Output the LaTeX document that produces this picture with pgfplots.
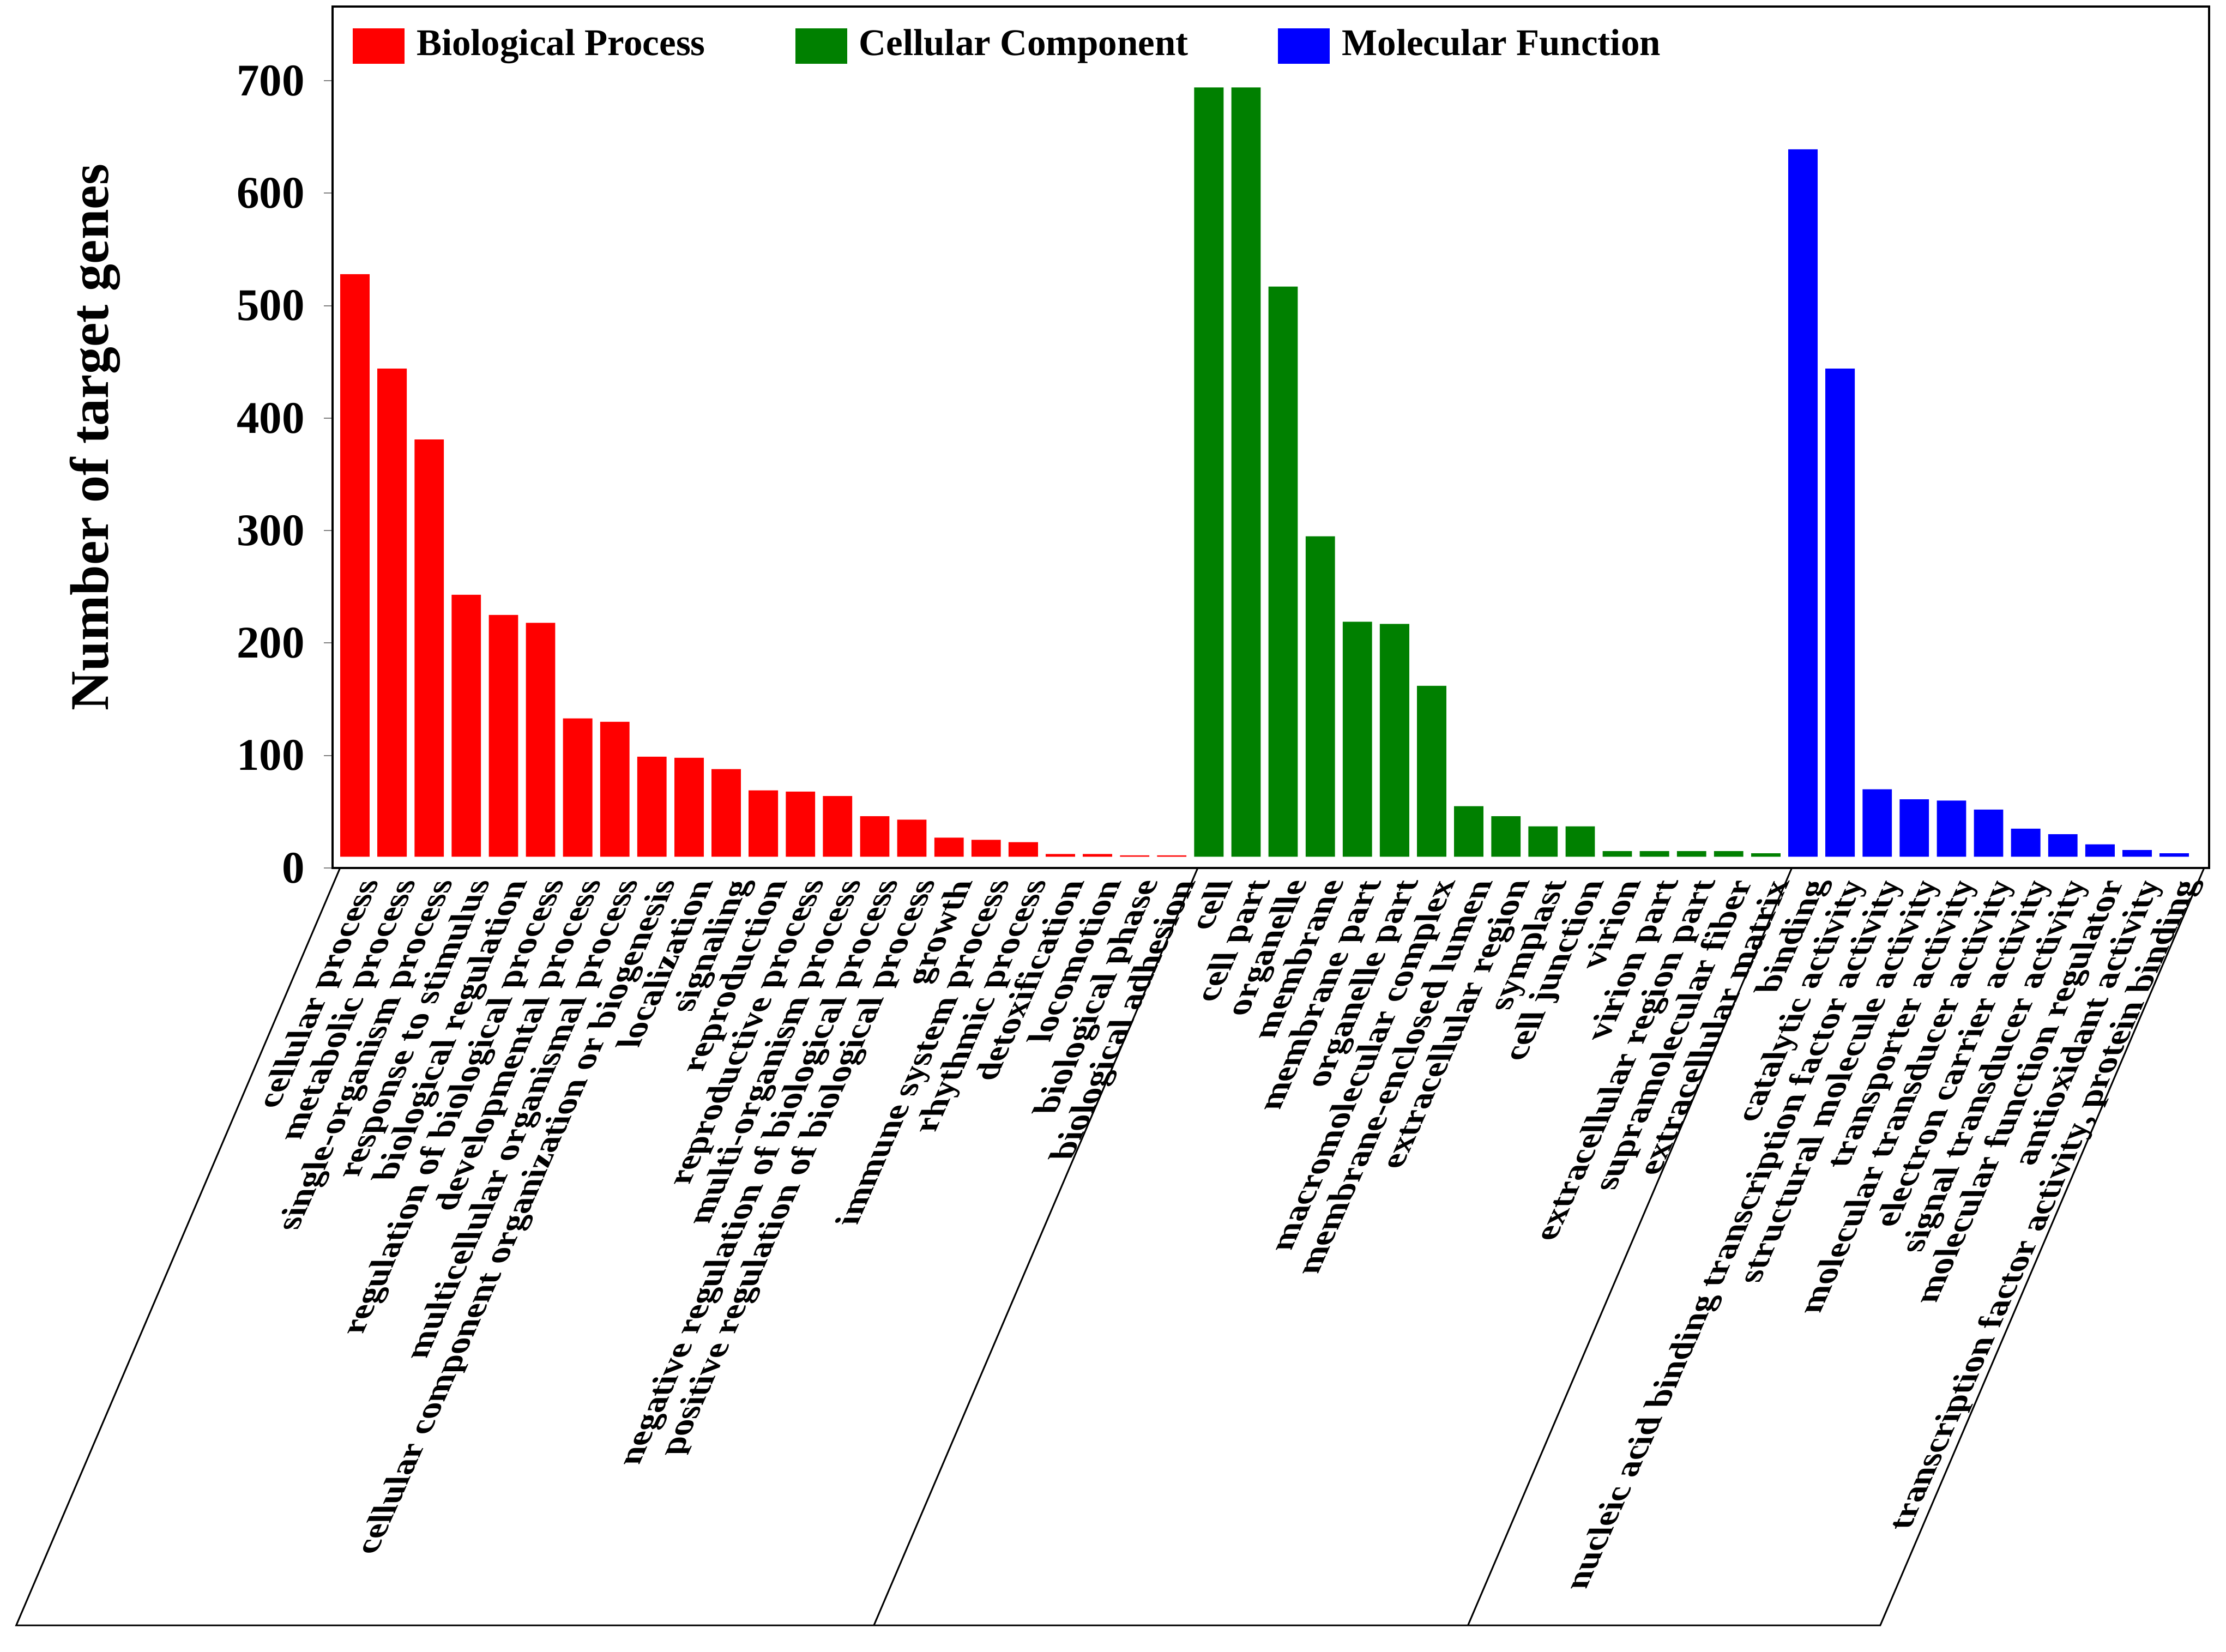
\documentclass[border=0pt]{standalone}
\usepackage{fontspec}
\setmainfont{Liberation Serif}
\usepackage{pgfplots}
\usepackage{pgfplotstable}
\pgfplotsset{compat=1.18}
\definecolor{bpred}{RGB}{255,0,0}
\definecolor{ccgreen}{RGB}{0,128,0}
\definecolor{mfblue}{RGB}{0,0,255}

% bar tops (bars are drawn from a base of 10)
\pgfplotstableread{
x  base bp  cc  mf
0  10 528 0 0
1  10 444 0 0
2  10 381 0 0
3  10 243 0 0
4  10 225 0 0
5  10 218 0 0
6  10 133 0 0
7  10 130 0 0
8  10 99 0 0
9  10 98 0 0
10 10 88 0 0
11 10 69 0 0
12 10 68 0 0
13 10 64 0 0
14 10 46 0 0
15 10 43 0 0
16 10 27 0 0
17 10 25 0 0
18 10 23 0 0
19 10 12.5 0 0
20 10 12.5 0 0
21 10 11.2 0 0
22 10 11.2 0 0
23 10 0 694 0
24 10 0 694 0
25 10 0 517 0
26 10 0 295 0
27 10 0 219 0
28 10 0 217 0
29 10 0 162 0
30 10 0 55 0
31 10 0 46 0
32 10 0 37 0
33 10 0 37 0
34 10 0 15 0
35 10 0 15 0
36 10 0 15 0
37 10 0 15 0
38 10 0 13 0
39 10 0 0 639
40 10 0 0 444
41 10 0 0 70
42 10 0 0 61
43 10 0 0 60
44 10 0 0 52
45 10 0 0 35
46 10 0 0 30
47 10 0 0 21
48 10 0 0 16
49 10 0 0 13
}\gotable

\begin{document}
\begin{tikzpicture}
\path[use as bounding box] (0,0) rectangle (408.3pt,302.9pt);
\begin{axis}[
  at={(61pt,143.7pt)}, anchor=south west,
  scale only axis, width=344.2pt, height=158pt,
  xmin=-0.602, xmax=49.94, ymin=0, ymax=766,
  ybar stacked, bar width=0.79,
  clip=false,
  axis line style={line width=0.4pt},
  xtick={0,...,49},
  xticklabels={cellular process, metabolic process, single-organism process, response to stimulus, biological regulation, regulation of biological process, developmental process, multicellular organismal process, cellular component organization or biogenesis, localization, signaling, reproduction, reproductive process, multi-organism process, negative regulation of biological process, positive regulation of biological process, growth, immune system process, rhythmic process, detoxification, locomotion, biological phase, biological adhesion,
  cell, cell part, organelle, membrane, membrane part, organelle part, macromolecular complex, membrane-enclosed lumen, extracellular region, symplast, cell junction, virion, virion part, extracellular region part, supramolecular fiber, extracellular matrix,
  binding, catalytic activity, nucleic acid binding transcription factor activity, structural molecule activity, transporter activity, molecular transducer activity, electron carrier activity, signal transducer activity, molecular function regulator, antioxidant activity, {transcription factor activity, protein binding}},
  x tick label style={xslant=0.445, rotate=90, anchor=east, inner sep=0pt,
    text height=0.7em, text depth=0.22em,
    font=\fontsize{6.3}{7}\selectfont\bfseries, xshift=-0.5pt, yshift=-2.4pt},
  major x tick style={draw=none},
  xtick pos=bottom, ytick pos=left,
  ytick={0,100,...,700},
  tick align=outside, major tick length=1.6pt,
  y tick label style={font=\fontsize{8.3}{9}\selectfont\bfseries},
  /pgf/number format/assume math mode=true,
  ylabel={Number of target genes},
  ylabel style={font=\fontsize{10}{12}\selectfont\bfseries, at={(axis description cs:-0.1267,0.5)}, anchor=center},
  legend columns=3,
  legend style={draw=none, fill=none, at={(axis description cs:0.0102,0.954)}, anchor=west,
    inner sep=0pt, font=\fontsize{6.9}{8}\selectfont\bfseries,
    nodes={inner sep=0pt},
    /tikz/every odd column/.append style={column sep=2.2pt},
    /tikz/every even column/.append style={column sep=16.5pt}},
]
\addplot[draw=none, fill=none, forget plot] table[x=x, y=base] {\gotable};
\addplot[draw=none, fill=bpred, legend image code/.code={\fill[bpred] (0pt,-3.25pt) rectangle (9.5pt,3.25pt);}]
  table[x=x, y expr={max(\thisrow{bp}-10,0)}] {\gotable};
\addlegendentry{Biological Process}
\addplot[draw=none, fill=ccgreen, legend image code/.code={\fill[ccgreen] (0pt,-3.25pt) rectangle (9.5pt,3.25pt);}]
  table[x=x, y expr={max(\thisrow{cc}-10,0)}] {\gotable};
\addlegendentry{Cellular Component}
\addplot[draw=none, fill=mfblue, legend image code/.code={\fill[mfblue] (0pt,-3.25pt) rectangle (9.5pt,3.25pt);}]
  table[x=x, y expr={max(\thisrow{mf}-10,0)}] {\gotable};
\addlegendentry{Molecular Function}
\draw[line width=0.3pt] (axis cs:-0.4,0) -- ++(-59.4pt,-138.9pt) -- ++(341.9pt,0pt) -- ++(59.4pt,138.9pt);
\draw[line width=0.3pt] (axis cs:22.7,0) -- ++(-59.4pt,-138.9pt);
\draw[line width=0.3pt] (axis cs:38.7,0) -- ++(-59.4pt,-138.9pt);
\end{axis}
\end{tikzpicture}
\end{document}
